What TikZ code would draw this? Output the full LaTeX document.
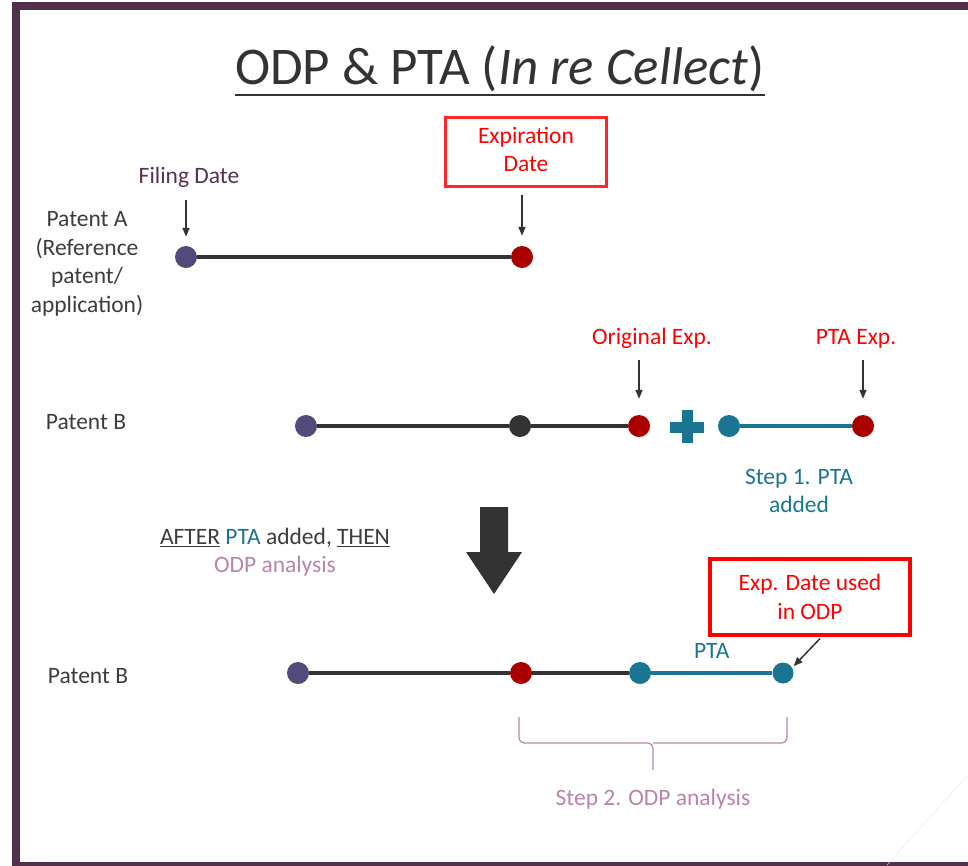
\documentclass[tikz,border=0pt]{standalone}
\usepackage{fontspec}
\setmainfont{Carlito}
\usetikzlibrary{arrows.meta,positioning,calc}
\definecolor{framepurple}{RGB}{80,48,74}
\definecolor{filingpurple}{RGB}{80,75,120}
\definecolor{labelplum}{RGB}{85,50,80}
\definecolor{expred}{RGB}{170,0,0}
\definecolor{boxred}{RGB}{255,40,40}
\definecolor{ptateal}{RGB}{26,117,147}
\definecolor{odpmauve}{RGB}{185,132,170}
\definecolor{darkline}{RGB}{51,51,51}
\definecolor{darktext}{RGB}{60,60,60}
\newcommand{\ulword}[2][1.6pt]{\vtop{\hbox{#2}\kern1.5pt\hrule height #1}}

\begin{document}
\begin{tikzpicture}[x=1pt, y=-1pt,
    dot/.style={circle, inner sep=0pt, minimum size=22pt},
    txt/.style={font=\fontsize{23.5}{28.5}\selectfont, text=darktext, align=center, inner sep=0pt, text height=17pt, text depth=5pt},
    redbox/.style={draw=boxred, line width=3.5pt, text=red, font=\fontsize{23.5}{28.5}\selectfont, align=center},
    bar/.style={line width=4pt, darkline},
    ptabar/.style={line width=4pt, ptateal},
    pointer/.style={-{Triangle[length=9pt,width=7pt]}, line width=1.5pt, darkline},
    brc/.style={odpmauve, line width=1.2pt, rounded corners=5pt}
]
\useasboundingbox (0,0) rectangle (968,865);
% slide frame
\draw[line width=8pt, framepurple] (16,6) rectangle (1000,866);
\draw[black!10] (968,775) -- (887,865);

% title
\node[font=\fontsize{53}{64}\selectfont, text=darkline, inner sep=0pt] (title) at (500,71)
    {\ulword[2.5pt]{ODP \& PTA (\textit{In re Cellect})}};

% Patent A
\node[txt, text height=, text depth=] (patA) at (87,264) {Patent A\\(Reference\\patent/\\application)};
\node[dot, fill=filingpurple] (a1) at (186,257) {};
\node[dot, fill=expred] (a2) at (522,257) {};
\draw[bar] (a1) -- (a2);
\node[txt, text=labelplum] (filing) at (189,177) {Filing Date};
\node[redbox, minimum width=161pt, minimum height=69pt] (expbox) at (526,152)
    {\raisebox{-10pt}{\begin{tabular}{@{}c@{}}Expiration\\Date\end{tabular}}};
\draw[pointer, shorten <=12pt, shorten >=9pt] (filing.south -| a1) -- (a1.north);
\draw[pointer, shorten <=7pt, shorten >=10pt] (expbox.south -| a2) -- (a2.north);

% Patent B, Step 1
\node[txt] (patB1) at (86,423) {Patent B};
\node[dot, fill=filingpurple] (b1) at (306,426) {};
\node[dot, fill=darkline] (b2) at (520,426) {};
\node[dot, fill=expred] (b3) at (639,426) {};
\node[dot, fill=ptateal] (b4) at (729,426) {};
\node[dot, fill=expred] (b5) at (863,426) {};
\draw[bar] (b1) -- (b2) -- (b3);
\draw[ptabar] (b4) -- (b5);
\fill[ptateal] (670,421.5) rectangle (704,432.5);
\fill[ptateal] (681.5,410) rectangle (692.5,443);
\node[txt, text=red] (origexp) at (652,338) {Original Exp.};
\node[txt, text=red] (ptaexp) at (856,338) {PTA Exp.};
\draw[pointer, shorten <=11pt, shorten >=16pt] (origexp.south -| b3) -- (b3.north);
\draw[pointer, shorten <=11pt, shorten >=16pt] (ptaexp.south -| b5) -- (b5.north);
\node[txt, text=ptateal, text height=, text depth=] (step1) at (799,491) {Step 1. PTA\\added};

% transition
\node[txt, text height=, text depth=] (note) at (275,552)
    {\ulword{AFTER} \textcolor{ptateal}{PTA} added, \ulword{THEN}\\\textcolor{odpmauve}{ODP analysis}};
\fill[darkline] (480,507) -- (508,507) -- (508,552) -- (522,552) -- (494,594)
    -- (466,552) -- (480,552) -- cycle;

% Patent B, Step 2
\node[txt] (patB2) at (88,677) {Patent B};
\node[dot, fill=filingpurple] (c1) at (298,673) {};
\node[dot, fill=expred] (c2) at (521,673) {};
\node[dot, fill=ptateal] (c3) at (640,673) {};
\node[dot, fill=ptateal, minimum size=21pt] (c4) at (783,673) {};
\draw[bar] (c1) -- (c2) -- (c3);
\draw[ptabar] (c3) -- (c4) node[midway, above=8pt, txt, text=ptateal] (ptalbl) {PTA};
\node[redbox, line width=4pt, draw=red, minimum width=200pt, minimum height=76pt] (expodp) at (810,597)
    {Exp. Date used\\in ODP};
\draw[pointer, shorten <=2pt, shorten >=2pt] (expodp.-74) -- (c4.30);

% brace
\coordinate (brL) at (519,717);
\coordinate (brR) at (787,717);
\coordinate (brMid) at (653,743);
\coordinate (brTip) at (653,770);
\draw[brc] (brL) |- (brMid) -- (brTip);
\draw[brc] (brR) |- (brMid);
\node[txt, text=odpmauve] (step2) at (653,799) {Step 2. ODP analysis};
\end{tikzpicture}
\end{document}
